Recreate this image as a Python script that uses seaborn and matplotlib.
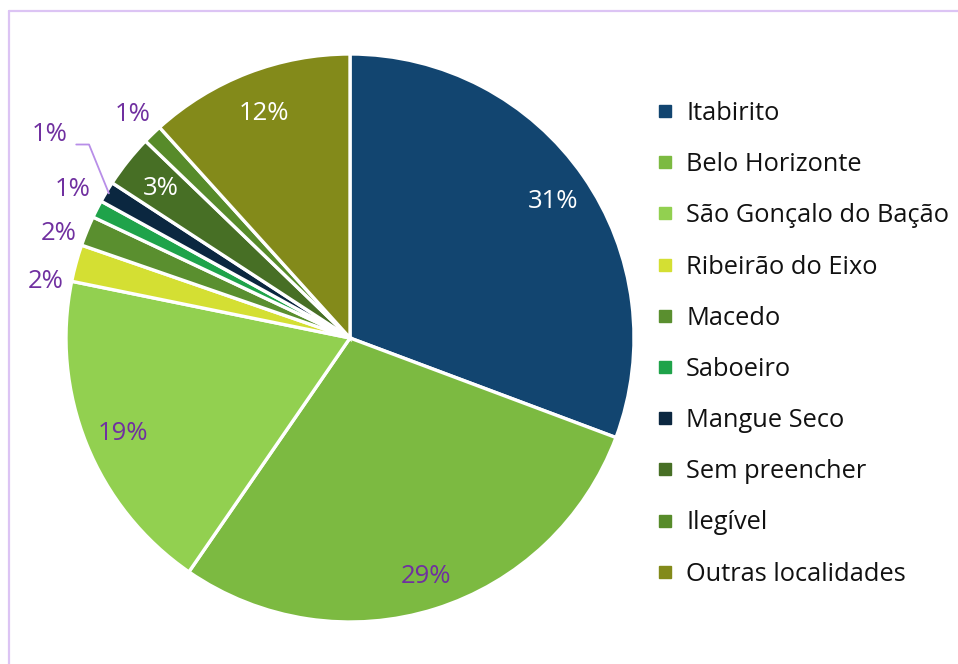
import numpy as np
import matplotlib
matplotlib.use("Agg")
import matplotlib.pyplot as plt
import matplotlib.transforms as mtrans
import seaborn as sns
from matplotlib.lines import Line2D

sns.set_theme(style="white")
plt.rcParams['font.family'] = ['Open Sans', 'DejaVu Sans']

categories = ["Itabirito", "Belo Horizonte", "São Gonçalo do Bação", "Ribeirão do Eixo",
              "Macedo", "Saboeiro", "Mangue Seco", "Sem preencher", "Ilegível",
              "Outras localidades"]
shares = [30.7, 28.9, 18.6, 2.1, 1.7, 1.0, 1.2, 3.0, 1.1, 11.7]
pct_labels = ["31%", "29%", "19%", "2%", "2%", "1%", "1%", "3%", "1%", "12%"]
colors = ["#124570", "#7cba41", "#92d050", "#d4df33", "#5a8f2f",
          "#1fa34a", "#0b2740", "#476f25", "#578b2a", "#838a1a"]

W, H = 958, 664
fig = plt.figure(figsize=(W / 100, H / 100), dpi=100)
cx, cy, R = 350, 338, 284
ax = fig.add_axes([(cx - R) / W, (H - cy - R) / H, 2 * R / W, 2 * R / H])

wedges, _ = ax.pie(shares, colors=colors, startangle=90, counterclock=False,
                   wedgeprops=dict(edgecolor="white", linewidth=2.4))
ax.set_xlim(-1, 1)
ax.set_ylim(-1, 1)
ax.set_aspect("auto")

purple = "#7030a0"
fs = 18.5
tshift = mtrans.offset_copy(ax.transData, fig=fig, x=2, y=-3, units="dots")
# label placement style: (radius, angle nudge in degrees)
place = {0: (0.86, 0), 1: (0.87, 0), 2: (0.87, 0), 3: (1.10, 4.3), 4: (1.10, 2.0),
         5: (1.12, -1.5), 7: (0.86, 0), 8: (1.11, 0), 9: (0.86, 0)}
for i, (w, lab) in enumerate(zip(wedges, pct_labels)):
    ang = np.deg2rad((w.theta1 + w.theta2) / 2)
    col = "white" if i in (0, 7, 9) else purple
    if i == 6:
        # leader-lined label
        x0, y0 = 0.99 * np.cos(ang), 0.99 * np.sin(ang)
        x1, y1 = x0 - 0.07, y0 + 0.172
        x2 = x1 - 0.045
        ax.plot([x0, x1, x2], [y0, y1, y1], color="#b88ee8", lw=1.3, clip_on=False)
        ax.text(x2 - 0.03, y1 + 0.035, lab, ha="right", va="center", color=col,
                fontsize=fs, clip_on=False)
        continue
    r, nudge = place[i]
    a = ang + np.deg2rad(nudge)
    ax.text(r * np.cos(a), r * np.sin(a), lab, ha="center", va="center",
            color=col, fontsize=fs, clip_on=False, transform=tshift)

handles = [Line2D([], [], marker="s", linestyle="none", markersize=8,
                  markerfacecolor=c, markeredgecolor=c) for c in colors]
leg = fig.legend(handles, categories, loc="upper left", bbox_to_anchor=(652 / W, 1 - 101 / H),
                 frameon=False, fontsize=18.3, labelspacing=1.03, handletextpad=0.34,
                 handlelength=1.0, borderaxespad=0, borderpad=0)
for t in leg.get_texts():
    t.set_color("#111111")

# light purple frame (top and left edges)
fig.add_artist(Line2D([9 / W, 9 / W], [0, 1 - 11 / H], color="#dcc4f4", lw=1.6,
                      transform=fig.transFigure))
fig.add_artist(Line2D([9 / W, 1], [1 - 11 / H, 1 - 11 / H], color="#dcc4f4", lw=1.6,
                      transform=fig.transFigure))

fig.savefig("out.png", dpi=100)
